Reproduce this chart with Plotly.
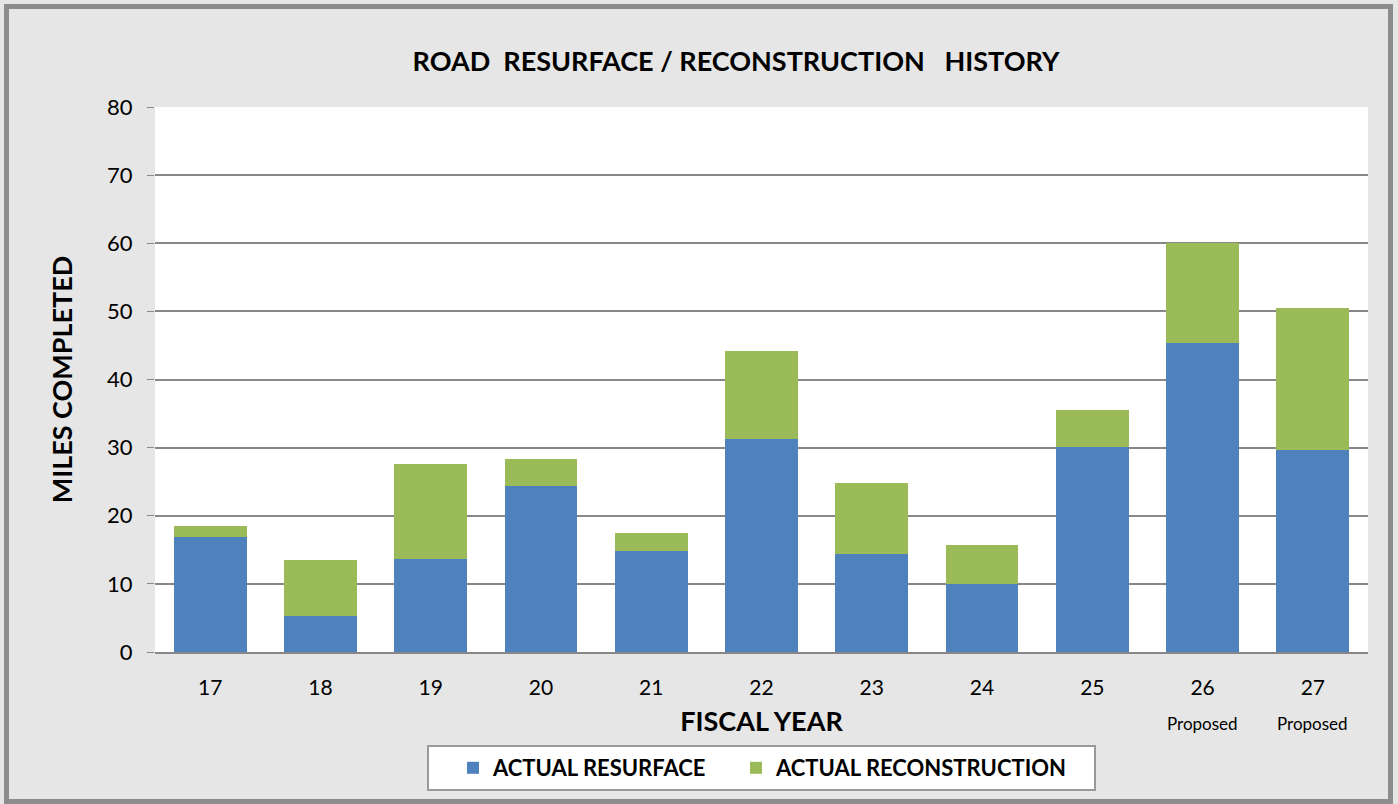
import plotly.graph_objects as go

years = ["17", "18", "19", "20", "21", "22", "23", "24", "25", "26", "27"]
proposed_years = ["26", "27"]
resurface = [16.9, 5.3, 13.7, 24.4, 14.8, 31.3, 14.4, 10.0, 30.1, 45.4, 29.7]
totals = [18.5, 13.5, 27.6, 28.3, 17.5, 44.2, 24.8, 15.7, 35.5, 60.1, 50.5]
reconstruction = [round(t - r, 1) for t, r in zip(totals, resurface)]

FONT = "Lato"
fig = go.Figure()
fig.add_trace(go.Bar(x=years, y=resurface, name="<b>ACTUAL RESURFACE</b>",
                     legendwidth=238,
                     marker=dict(color="#4f81bd", line=dict(width=0))))
fig.add_trace(go.Bar(x=years, y=reconstruction, name="<b>ACTUAL RECONSTRUCTION</b>",
                     legendwidth=300,
                     marker=dict(color="#9bbb59", line=dict(width=0))))

W, H = 1398, 804
L, R, T, B = 155, 30, 107, 152
pw, ph = W - L - R, H - T - B

def px(x):
    return (x - L) / pw

def py(y):
    return (H - B - y) / ph

annotations = [dict(x=years.index(yr), y=py(723), xref="x", yref="paper", text="Proposed",
                    showarrow=False, font=dict(size=17, family=FONT),
                    xanchor="center", yanchor="middle") for yr in proposed_years]

fig.update_layout(
    width=W, height=H,
    barmode="stack", bargap=0.34,
    paper_bgcolor="#e6e6e6", plot_bgcolor="white",
    margin=dict(l=L, r=R, t=T, b=B),
    font=dict(family=FONT, color="black"),
    title=dict(text="<b>ROAD\u00a0 RESURFACE\u00a0/\u00a0RECONSTRUCTION\u00a0\u00a0 HISTORY</b>",
               x=736 / W, xanchor="center", y=1 - 62 / H, yanchor="middle",
               font=dict(size=27, family=FONT, color="black")),
    xaxis=dict(type="category", showgrid=False,
               showline=True, linecolor="#878787", linewidth=2,
               tickfont=dict(size=21, family=FONT), ticks="", ticklabelstandoff=16,
               title=dict(text="<b>FISCAL YEAR</b>", font=dict(size=27, family=FONT), standoff=14)),
    yaxis=dict(range=[0, 80], dtick=10, showgrid=True, gridcolor="#878787", gridwidth=1.5,
               ticks="outside", ticklen=7, tickcolor="#878787", ticklabelstandoff=10,
               tickfont=dict(size=22, family=FONT), zeroline=False,
               title=dict(text="<b>MILES COMPLETED</b>", font=dict(size=27, family=FONT), standoff=26)),
    legend=dict(orientation="h", x=px(453), xanchor="left", y=py(768), yanchor="middle",
                bgcolor="rgba(0,0,0,0)", borderwidth=0,
                font=dict(size=22, family=FONT), traceorder="normal"),
    annotations=annotations,
    shapes=[dict(type="rect", xref="paper", yref="paper",
                 x0=px(6.5), x1=px(1390.5), y0=py(801.5), y1=py(6.5),
                 line=dict(color="#8c8c8c", width=5), layer="below"),
            dict(type="rect", xref="paper", yref="paper",
                 x0=px(428), x1=px(1095), y0=py(790), y1=py(746),
                 fillcolor="white", line=dict(color="#999999", width=2), layer="below")],
)
fig.write_html("out.html", post_script="document.body.style.margin='0';",
               config={"displayModeBar": False})
